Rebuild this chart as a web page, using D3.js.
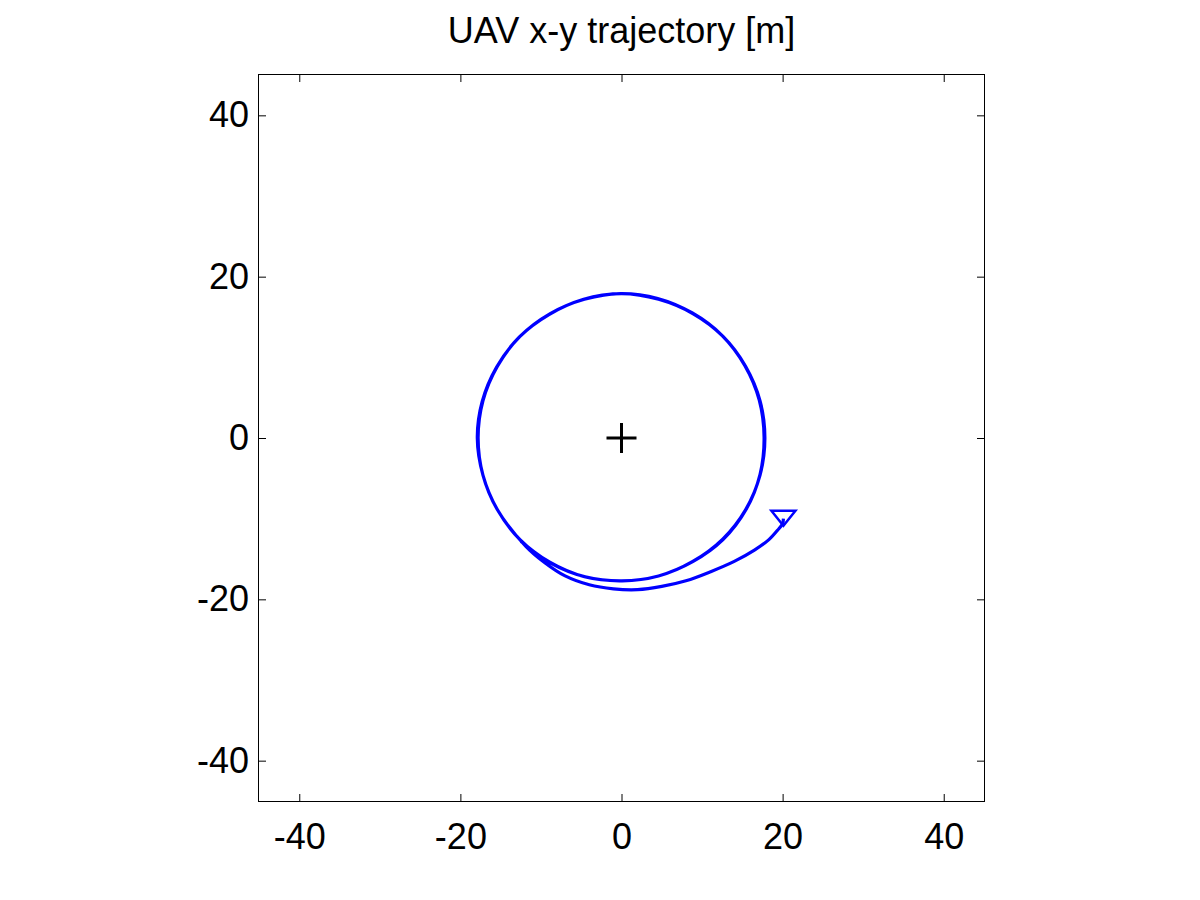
<!DOCTYPE html>
<html>
<head>
<meta charset="utf-8">
<script src="https://cdn.jsdelivr.net/npm/d3@7"></script>
<style>
  body { margin: 0; background: #fff; }
  text { font-family: "Liberation Sans", Arial, sans-serif; fill: #000; }
</style>
</head>
<body>
<script>
// trajectory points [m]
var trajX = [20.1, 20.0, 19.4, 18.3, 16.5, 14.0, 11.0, 8.0, 5.0, 2.0, -1.0, -4.0, -7.0, -9.6, -11.9,
  -15.4, -17.2, -17.8, -17.2, -15.4, -12.6, -8.9, -4.6, 0.0, 4.6, 8.9, 12.6, 15.4, 17.2, 17.8,
  17.2, 15.4, 12.6, 8.85, 4.6, 0.0, -4.6, -8.9, -12.6, -15.4, -17.2, -17.9,
  -17.3, -15.5, -12.7, -9.0, -4.7, -0.1, 4.5, 8.8, 12.5, 15.3, 17.1, 17.7,
  17.2, 15.5, 12.6, 8.9, 4.6, 0.1, -4.5, -8.8, -12.5];
var trajY = [-10.0, -10.6, -11.4, -12.6, -13.9, -15.3, -16.6, -17.7, -18.4, -18.8, -18.7, -18.2, -17.1, -15.4, -13.4,
  -8.9, -4.6, 0.0, 4.6, 8.9, 12.6, 15.4, 17.2, 17.9, 17.2, 15.4, 12.6, 8.9, 4.6, 0.0,
  -4.6, -8.9, -12.5, -15.3, -17.1, -17.7, -17.2, -15.4, -12.6, -8.9, -4.6, 0.0,
  4.5, 8.8, 12.5, 15.3, 17.2, 17.9, 17.3, 15.5, 12.7, 9.0, 4.7, 0.1,
  -4.5, -8.8, -12.6, -15.3, -17.1, -17.7, -17.2, -15.5, -12.8];
var startPt = [20.1, -9.9];
var target = [0, 0];
var ticks = [-40, -20, 0, 20, 40];
var domain = [-45, 45];

var W = 1200, H = 900;
var mLeft = 259, mRight = 984, mTop = 75, mBottom = 801;

var svg = d3.select("body").append("svg")
    .attr("width", W)
    .attr("height", H);

var x = d3.scaleLinear().domain(domain).range([mLeft, mRight]);
var y = d3.scaleLinear().domain(domain).range([mBottom, mTop]);

// axes, ticks inside, on all four sides
var fs = "36px";
var fmt = d => String(d);
svg.append("g").attr("transform", "translate(0," + mBottom + ")")
    .call(d3.axisBottom(x).tickValues(ticks).tickSizeInner(-7).tickSizeOuter(0).tickPadding(22).tickFormat(fmt))
    .call(g => g.selectAll("text").style("font-size", fs));
svg.append("g").attr("transform", "translate(0," + mTop + ")")
    .call(d3.axisTop(x).tickValues(ticks).tickSizeInner(-7).tickSizeOuter(0).tickFormat(""));
svg.append("g").attr("transform", "translate(" + mLeft + ",0)")
    .call(d3.axisLeft(y).tickValues(ticks).tickSizeInner(-7).tickSizeOuter(0).tickPadding(10).tickFormat(fmt))
    .call(g => g.selectAll("text").style("font-size", fs));
svg.append("g").attr("transform", "translate(" + mRight + ",0)")
    .call(d3.axisRight(y).tickValues(ticks).tickSizeInner(-7).tickSizeOuter(0).tickFormat(""));

svg.selectAll(".domain").remove();
svg.selectAll(".tick line").attr("stroke", "#000");
svg.selectAll("text").attr("font-family", null);

svg.append("rect")
    .attr("x", mLeft - 0.5).attr("y", mTop - 0.5)
    .attr("width", mRight - mLeft + 1).attr("height", mBottom - mTop + 1)
    .attr("fill", "none").attr("stroke", "#000").attr("stroke-width", 1);

// trajectory
var pts = trajX.map((d, i) => [d, trajY[i]]);
var line = d3.line()
    .x(d => x(d[0]))
    .y(d => y(d[1]))
    .curve(d3.curveCatmullRom);

svg.append("path")
    .datum(pts)
    .attr("d", line)
    .attr("fill", "none")
    .attr("stroke", "#0000ff")
    .attr("stroke-width", 3.2)
    .attr("stroke-linejoin", "round");

// start marker (downward triangle)
var sx = x(startPt[0]), sy = y(startPt[1]);
svg.append("path")
    .attr("d", "M" + (sx - 12) + "," + (sy - 7) + "L" + (sx + 12) + "," + (sy - 7) + "L" + sx + "," + (sy + 8) + "Z")
    .attr("fill", "none")
    .attr("stroke", "#0000ff")
    .attr("stroke-width", 2.5);

// target marker (+)
var tx = x(target[0]), ty = y(target[1]);
svg.append("path")
    .attr("d", "M" + (tx - 15) + "," + ty + "H" + (tx + 15) + "M" + tx + "," + (ty - 15) + "V" + (ty + 15))
    .attr("stroke", "#000")
    .attr("stroke-width", 3);

svg.append("text")
    .attr("x", (mLeft + mRight) / 2)
    .attr("y", 43)
    .attr("text-anchor", "middle")
    .style("font-size", "36px")
    .text("UAV x-y trajectory [m]");
</script>
</body>
</html>
